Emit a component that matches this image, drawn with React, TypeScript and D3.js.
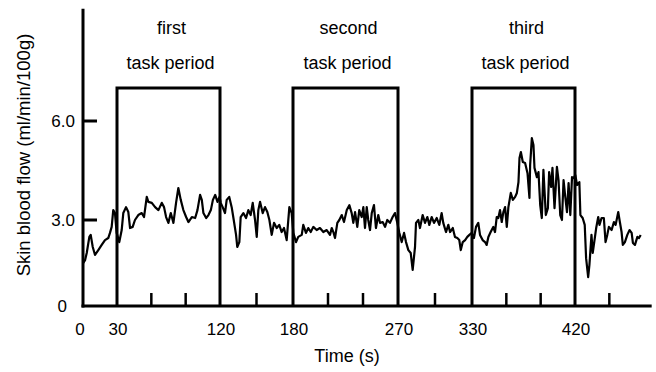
import React from "react";
import * as d3 from "d3";

const times = [
  0.3, 1.8, 3.3, 5.6, 6.8, 8.6, 10.6, 13.5, 16.5, 19.4, 22.3, 23.8, 25.3, 26.7, 28.2, 29.7, 32.0, 34.1, 35.5, 37.9,
  39.9, 41.4, 43.7, 45.7, 48.6, 51.6, 53.6, 56.0, 57.4, 60.4, 63.3, 66.2, 69.1, 71.1, 72.9, 74.9, 77.0, 79.3, 81.6, 83.6,
  85.7, 88.0, 90.4, 92.4, 95.4, 98.3,
  100.3, 102.6, 104.1, 105.5, 107.9, 109.9, 112.0, 113.8, 115.8, 117.8, 119.6, 120.6, 122.2, 124.1, 125.5, 127.6, 129.6, 130.9, 133.2, 134.2,
  135.9, 137.0, 139.2, 141.4, 143.3, 145.2, 146.9, 148.8, 150.2, 151.5, 152.9, 155.1, 157.0, 158.9, 160.6, 162.5, 164.4, 166.6, 168.7, 170.7,
  172.6, 174.8, 177.0, 178.9, 180.3, 182.6, 184.5, 187.5,
  188.8, 191.1, 193.1, 195.2, 197.4, 200.3, 203.1, 206.0, 208.9, 211.7, 213.2, 214.6, 216.0, 218.0, 219.7, 221.8, 223.7, 226.1, 228.3, 230.3,
  231.7, 233.2, 235.1, 236.8, 238.9, 240.3, 241.7, 243.2, 244.5, 246.0, 247.5, 249.4, 251.1, 253.1, 254.6, 256.9, 258.9, 260.8, 263.1, 265.4,
  267.4, 269.4, 271.1, 273.0, 274.9, 276.5, 278.4, 280.3, 281.9, 283.8,
  284.6, 286.5, 287.8, 290.0, 291.9, 293.8, 295.4, 297.3, 299.2, 301.4, 303.5, 305.4, 306.7, 308.9, 310.8, 312.2, 314.4, 316.2, 318.1, 319.7,
  320.9, 322.5, 324.4, 326.2, 327.9, 329.8, 331.7, 333.5, 335.5, 337.0, 339.3, 341.4, 342.8, 344.3, 346.3, 348.6, 350.1, 351.6, 353.0, 354.5,
  356.0, 357.4, 358.9, 360.4, 361.8, 363.9, 365.7, 367.7, 369.2, 370.6, 371.5, 372.7, 374.4, 376.4, 378.5, 380.2,
  380.8, 382.3, 383.7, 384.6, 386.7, 388.1, 389.6, 391.0, 392.4, 394.5, 396.3, 397.4, 399.2, 400.3, 402.1, 404.2, 405.6, 407.1, 408.6, 410.0,
  411.5, 413.0, 414.4, 415.9, 417.4, 418.8, 420.3, 421.8, 423.8, 424.7, 426.7, 428.5, 429.7, 431.5, 432.6, 434.4, 435.5, 437.3, 438.5, 440.3,
  441.4, 443.2, 445.2, 446.7, 448.2, 449.6, 452.0, 454.0, 455.5, 457.8, 459.2, 460.7, 461.8, 463.6, 465.7, 467.7, 469.5, 470.6, 472.4, 474.5,
  475.9, 477.4,
];

const flows = [
  1.50, 1.60, 1.85, 2.41, 2.48, 2.06, 1.78, 1.95, 2.13, 2.30, 2.37, 2.55, 2.76, 3.30, 3.21, 2.55, 2.23, 2.65, 3.21, 3.39,
  3.24, 2.72, 2.76, 3.00, 3.15, 3.21, 3.09, 3.70, 3.55, 3.52, 3.39, 3.30, 3.52, 3.39, 3.09, 2.90, 3.21, 2.90, 3.52, 3.97,
  3.61, 3.30, 3.09, 2.93, 3.09, 3.06,
  3.30, 3.76, 3.61, 3.21, 3.06, 3.15, 3.30, 3.61, 3.76, 3.55, 3.70, 3.52, 3.39, 3.21, 3.61, 3.70, 3.39, 3.09, 2.48, 2.06,
  2.23, 3.09, 3.21, 3.06, 3.30, 3.15, 3.52, 3.00, 2.41, 3.30, 3.55, 3.21, 3.39, 3.24, 3.00, 2.48, 2.90, 2.72, 2.83, 2.58,
  2.72, 2.30, 3.39, 3.21, 2.55, 2.23, 2.41, 2.48,
  2.83, 2.55, 2.72, 2.58, 2.76, 2.65, 2.72, 2.58, 2.65, 2.48, 2.72, 2.58, 2.37, 2.90, 3.00, 3.15, 2.93, 3.30, 3.45, 3.21,
  2.90, 3.24, 2.76, 3.30, 3.09, 3.39, 2.72, 3.39, 3.00, 2.65, 3.21, 3.45, 2.72, 3.15, 2.90, 2.93, 2.76, 3.00, 2.90, 3.09,
  3.21, 2.90, 2.55, 2.23, 2.55, 2.23, 1.95, 1.85, 1.26, 2.06,
  2.90, 3.00, 2.72, 3.15, 2.90, 3.09, 2.83, 3.09, 2.90, 3.06, 2.83, 3.21, 2.90, 2.58, 2.83, 2.58, 2.72, 2.41, 2.37, 2.30,
  1.95, 2.23, 2.30, 2.41, 2.48, 2.55, 2.37, 2.76, 2.90, 2.48, 2.30, 2.23, 2.13, 2.41, 2.58, 2.76, 2.58, 3.09, 3.06, 3.30,
  2.93, 3.24, 3.39, 2.76, 3.39, 3.82, 3.61, 3.70, 3.82, 4.15, 4.88, 5.06, 4.76, 4.73, 4.42, 3.67,
  4.67, 5.48, 5.27, 4.58, 4.30, 4.45, 3.45, 3.06, 4.52, 3.15, 3.36, 4.45, 4.00, 4.58, 3.36, 4.61, 4.21, 3.15, 3.00, 4.21,
  3.70, 3.24, 4.12, 3.15, 4.30, 4.27, 4.36, 4.06, 4.15, 3.15, 3.06, 2.83, 1.67, 1.01, 1.43, 2.48, 1.85, 2.37, 2.72, 3.09,
  2.83, 3.06, 3.06, 2.23, 2.48, 2.76, 2.65, 2.93, 2.83, 3.24, 2.93, 2.58, 2.13, 2.23, 2.48, 2.65, 2.55, 2.20, 2.13, 2.41,
  2.37, 2.48,
];

const xTickValues = [0, 30, 120, 180, 270, 330, 420];
const minorTicks = [60, 90, 150, 210, 240, 300, 360, 390, 450];
const yTickValues = [0, 3.0, 6.0];
const yTickLabels = ["0", "3.0", "6.0"];
const periodStarts = [30, 180, 330];
const periodEnds = [120, 270, 420];
const periodNames = ["first", "second", "third"];
const periodLevel = 7.0;
const yAxisTop = 9.4;
const xAxisEnd = 487;

const FONT = "'Liberation Sans', Arial, sans-serif";

export default function App() {
  const x = d3.scaleLinear().domain([0, 30, 120, 180, 270, 330, 420]).range([83, 117, 220, 293, 398, 472, 575]);
  const y = d3.scaleLinear().domain([0, 3, 6]).range([306, 220, 121]);

  const data = times.map((t, i) => ({ t, v: flows[i] }));
  const line = d3
    .line<{ t: number; v: number }>()
    .x((d) => x(d.t))
    .y((d) => y(d.v));

  const y0 = y(0);
  const x0 = x(0);

  return (
    <svg
      width={656}
      height={372}
      style={{ position: "absolute", left: 0, top: 0, background: "#fff" }}
      fontFamily={FONT}
    >
      <rect x={0} y={0} width={656} height={372} fill="#fff" />
      {/* trace */}
      <path d={line(data) || ""} fill="none" stroke="#000" strokeWidth={2.2} strokeLinejoin="round" />

      {/* task period boxes */}
      {periodStarts.map((s, i) => {
        const e = periodEnds[i];
        const top = y(periodLevel);
        const cx = (x(s) + x(e)) / 2;
        return (
          <g key={i}>
            <path
              d={`M${x(s)},${y0}V${top}H${x(e)}V${y0}`}
              fill="none"
              stroke="#000"
              strokeWidth={3}
              strokeLinejoin="miter"
            />
            <text x={cx + 3} y={34} textAnchor="middle" fontSize={18} fill="#000">
              {periodNames[i]}
            </text>
            <text x={cx + 2} y={69} textAnchor="middle" fontSize={18} fill="#000">
              task period
            </text>
          </g>
        );
      })}

      {/* minor ticks */}
      {minorTicks.map((t) => (
        <line key={t} x1={x(t)} x2={x(t)} y1={y0} y2={y0 - 13} stroke="#000" strokeWidth={2.5} />
      ))}

      {/* y ticks */}
      {yTickValues.slice(1).map((v) => (
        <line key={v} x1={x0} x2={x0 + 14} y1={y(v)} y2={y(v)} stroke="#000" strokeWidth={3} />
      ))}

      {/* axes */}
      <line x1={x0} x2={x0} y1={y(yAxisTop)} y2={y0 + 1.5} stroke="#000" strokeWidth={3} />
      <line x1={x0 - 1.5} x2={x(xAxisEnd)} y1={y0} y2={y0} stroke="#000" strokeWidth={3} />

      {/* y tick labels */}
      {yTickValues.map((v, i) => (
        <text
          key={v}
          x={v === 0 ? 67 : 75}
          y={y(v) + 6}
          textAnchor="end"
          fontSize={17}
          fill="#000"
        >
          {yTickLabels[i]}
        </text>
      ))}

      {/* x tick labels */}
      {xTickValues.map((t) => (
        <text key={t} x={t === 0 ? x(t) - 3 : x(t) + 1} y={335} textAnchor="middle" fontSize={17} fill="#000">
          {t}
        </text>
      ))}

      <text x={347} y={362} textAnchor="middle" fontSize={18} fill="#000">
        Time (s)
      </text>
      <text
        transform={`translate(30,155) rotate(-90)`}
        textAnchor="middle"
        fontSize={18.5}
        fill="#000"
      >
        Skin blood flow (ml/min/100g)
      </text>
    </svg>
  );
}
